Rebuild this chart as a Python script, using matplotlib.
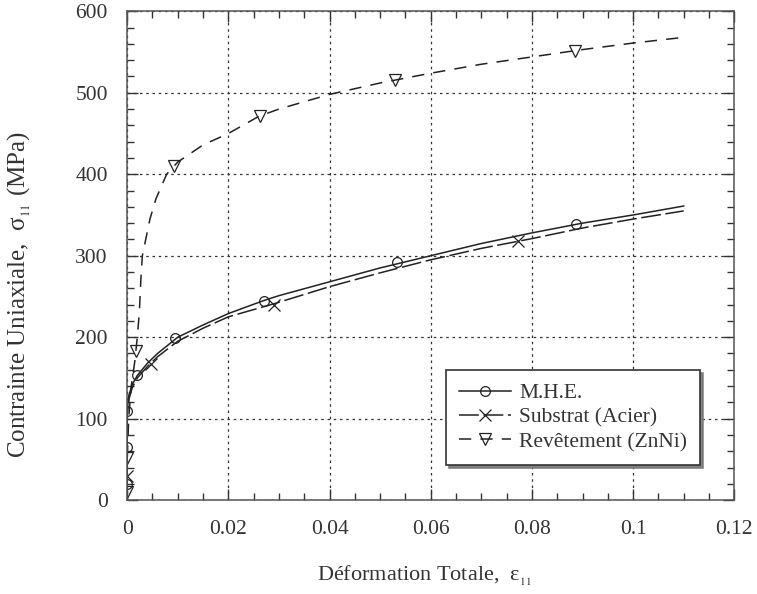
import matplotlib
matplotlib.use("Agg")
import matplotlib.pyplot as plt
from matplotlib.lines import Line2D
from matplotlib.ticker import MultipleLocator

plt.rcParams["font.family"] = ["Liberation Serif", "DejaVu Serif"]
plt.rcParams["mathtext.fontset"] = "stix"

# Courbes (déformation, contrainte en MPa)
mhe_x = [0, 0, 0.0003, 0.001, 0.002, 0.004, 0.006, 0.01, 0.015, 0.02, 0.027,
         0.03, 0.04, 0.05, 0.06, 0.07, 0.08, 0.09, 0.1, 0.11]
mhe_y = [0, 110, 128, 142, 153, 168, 180, 200, 215, 229, 245,
         251, 268, 285, 300, 315, 328, 340, 350, 361]

sub_x = [0, 0, 0.0004, 0.001, 0.002, 0.004, 0.006, 0.01, 0.015, 0.02, 0.029,
         0.04, 0.05, 0.06, 0.07, 0.08, 0.09, 0.1, 0.11]
sub_y = [0, 105, 125, 138, 150, 164, 176, 195, 211, 225, 241,
         262, 279, 295, 309, 321, 334, 345, 355]

rev_x = [0, 0, 0.0003, 0.0008, 0.0015, 0.002, 0.0024, 0.0027, 0.003, 0.0045,
         0.0057, 0.0078, 0.01, 0.015, 0.02, 0.026, 0.03, 0.04, 0.05, 0.06,
         0.07, 0.08, 0.09, 0.1, 0.11]
rev_y = [0, 50, 100, 140, 170, 200, 230, 270, 300, 345,
         370, 400, 415, 436, 450, 471, 480, 498, 512, 524,
         535, 544, 553, 561, 568]

# Marqueurs
mhe_mx = [0, 0, 0, 0.002, 0.0095, 0.027, 0.0534, 0.0888]
mhe_my = [20, 65, 110, 153, 199, 244, 292, 339]
sub_mx = [0, 0.0047, 0.029, 0.0772]
sub_my = [30, 167, 240, 318]
rev_mx = [0, 0, 0.0017, 0.0093, 0.0262, 0.053, 0.0885]
rev_my = [10, 52, 183, 410, 471, 516, 551]

labels = ["M.H.E.", "Substrat (Acier)", "Revêtement (ZnNi)"]
xtick_vals = [0, 0.02, 0.04, 0.06, 0.08, 0.1, 0.12]
xtick_txt = ["0", "0.02", "0.04", "0.06", "0.08", "0.1", "0.12"]

fig = plt.figure(figsize=(7.57, 5.94), dpi=100)
ax = fig.add_axes([0.168, 0.158, 0.802, 0.823])

c = "#222222"
ls_sub = (0, (13, 3))
ls_rev = (0, (8, 6))
ax.plot(mhe_x, mhe_y, color=c, lw=1.1, ls="-")
ax.plot(sub_x, sub_y, color=c, lw=1.1, ls=ls_sub)
ax.plot(rev_x, rev_y, color=c, lw=1.1, ls=ls_rev)

ax.plot(mhe_mx, mhe_my, ls="none", marker="o", ms=7, mfc="none", mec=c, mew=0.9)
ax.plot(sub_mx, sub_my, ls="none", marker="x", ms=8, mec=c, mew=0.9)
ax.plot(rev_mx, rev_my, ls="none", marker="v", ms=8, mfc="none", mec=c, mew=0.9)

ax.set_xlim(0, 0.12)
ax.set_ylim(0, 600)
ax.xaxis.set_minor_locator(MultipleLocator(0.005))
ax.yaxis.set_major_locator(MultipleLocator(100))
ax.yaxis.set_minor_locator(MultipleLocator(20))
ax.set_xticks(xtick_vals)
ax.set_xticklabels(xtick_txt)
ax.tick_params(which="both", direction="in", top=True, right=True,
               labelsize=15.5, colors="#333333")
ax.tick_params(which="major", length=8, width=1)
ax.tick_params(axis="x", which="major", pad=14)
ax.tick_params(axis="y", which="major", pad=14)
ax.tick_params(which="minor", length=5, width=1)
ax.grid(True, which="major", color="#333333", ls=(0, (2, 3)), lw=0.9)
for s in ax.spines.values():
    s.set_color("#555555")
    s.set_linewidth(1.1)

ax.set_xlabel("Déformation Totale,  ε$_{_{11}}$", fontsize=16,
              color="#333333")
ax.set_ylabel("Contrainte Uniaxiale,  σ$_{_{11}}$ (MPa)", fontsize=18,
              color="#333333")
ax.xaxis.set_label_coords(0.49, -0.13)
ax.yaxis.set_label_coords(-0.155, 0.42)

handles = [
    Line2D([], [], color=c, lw=1.1, ls="-", marker="o", ms=7, mfc="none", mew=0.9),
    Line2D([], [], color=c, lw=1.1, ls=ls_sub, marker="x", ms=8, mew=0.9),
    Line2D([], [], color=c, lw=1.1, ls=ls_rev, marker="v", ms=8, mfc="none", mew=0.9),
]
leg = ax.legend(handles, labels, loc="lower right", bbox_to_anchor=(0.944, 0.072),
                borderaxespad=0, fontsize=15.5, frameon=True, fancybox=False,
                shadow={"color": "#777777", "alpha": 0.9}, handlelength=2.4,
                borderpad=0.6, labelspacing=0.2, handletextpad=0.4)
leg.get_frame().set_edgecolor("#333333")
leg.get_frame().set_linewidth(1.2)
for t in leg.get_texts():
    t.set_color("#333333")

fig.savefig("out.png", dpi=100)
